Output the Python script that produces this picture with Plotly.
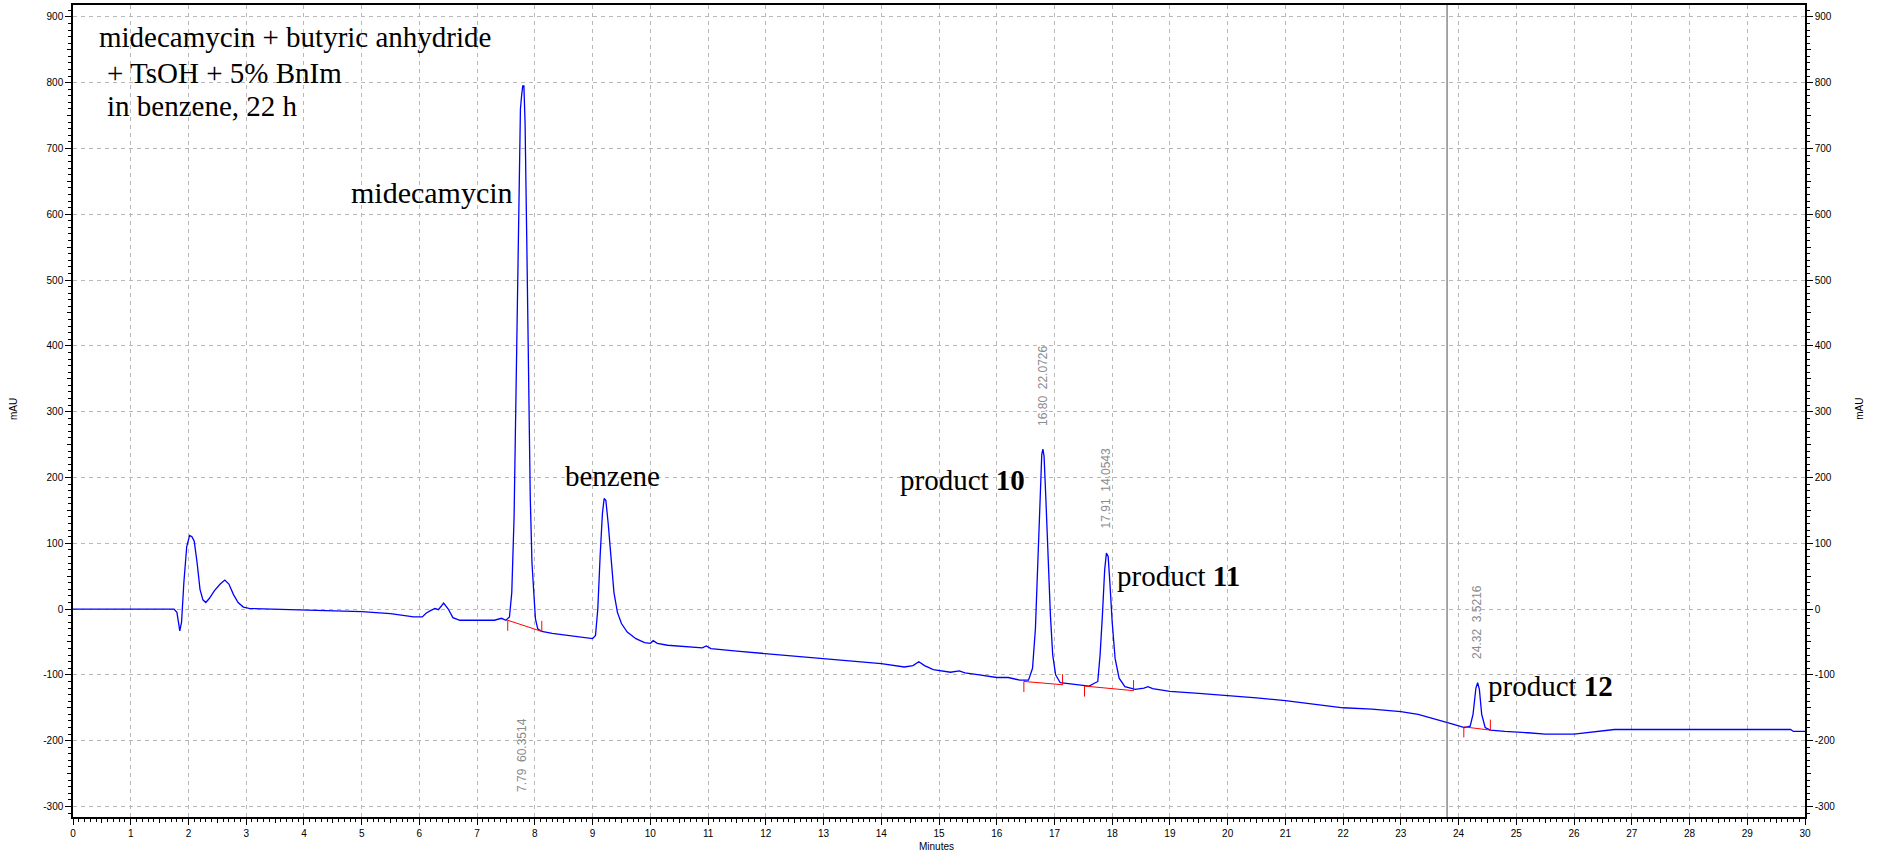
import plotly.graph_objects as go

# ---------------- data ----------------
time_min = [0.0, 1.75, 1.80, 1.85, 1.88, 1.92, 1.97, 2.02, 2.06, 2.10, 2.15, 2.20, 2.25, 2.30,
            2.36, 2.45, 2.55, 2.63, 2.70, 2.78, 2.86, 2.95, 3.05, 3.5, 4.0, 4.5, 5.0, 5.5, 5.9,
            6.05, 6.12, 6.20, 6.27, 6.33, 6.42, 6.50, 6.58, 6.70, 7.0, 7.3, 7.42, 7.50, 7.56,
            7.60, 7.64, 7.68, 7.72, 7.75, 7.77, 7.79, 7.81, 7.83, 7.86, 7.89, 7.92, 7.95, 7.98,
            8.01, 8.05, 8.12, 8.3, 8.6, 8.9, 9.0, 9.05, 9.09, 9.13, 9.17, 9.20, 9.23, 9.27, 9.32,
            9.37, 9.43, 9.50, 9.60, 9.75, 9.90, 10.0, 10.05, 10.12, 10.3, 10.6, 10.9, 10.97,
            11.05, 11.5, 12.0, 12.5, 13.0, 13.5, 14.0, 14.4, 14.55, 14.65, 14.75, 14.9, 15.2,
            15.35, 15.45, 15.7, 16.0, 16.2, 16.4, 16.55, 16.62, 16.67, 16.71, 16.75, 16.78,
            16.80, 16.82, 16.85, 16.89, 16.93, 16.97, 17.02, 17.1, 17.3, 17.6, 17.75, 17.79,
            17.83, 17.87, 17.90, 17.93, 17.96, 18.0, 18.05, 18.12, 18.22, 18.4, 18.55, 18.62,
            18.7, 19.0, 19.5, 20.0, 20.5, 21.0, 21.5, 22.0, 22.5, 23.0, 23.3, 23.6, 23.9, 24.1,
            24.2, 24.25, 24.30, 24.33, 24.36, 24.40, 24.46, 24.55, 24.8, 25.2, 25.5, 26.0, 26.3,
            26.7, 27.0, 28.0, 29.0, 29.75, 29.8, 30.0]
signal_mau = [0, 0, -5, -33, -20, 40, 95, 112, 110, 103, 70, 30, 14, 10,
              16, 28, 38, 44, 38, 22, 10, 3, 1, 0, -1, -2, -4, -7, -12,
              -12, -6, -2, 1, -1, 9, 0, -13, -17, -17, -17, -14, -17, -12,
              25, 140, 380, 640, 760, 780, 795, 795, 740, 560, 340, 170, 70, 20,
              -15, -30, -34, -37, -40, -43, -45, -40, 0, 80, 145, 168, 165, 130, 70,
              25, -5, -22, -35, -45, -51, -52, -48, -52, -55, -57, -59, -56,
              -60, -64, -68, -72, -75, -79, -83, -88, -86, -80, -86, -92, -96,
              -94, -97, -100, -104, -104, -108, -108, -90, -30, 60, 170, 235,
              243, 232, 170, 70, -10, -70, -100, -112, -114, -117, -110, -70,
              -10, 60, 85, 80, 40, -20, -75, -105, -118, -122, -120, -118,
              -121, -125, -128, -131, -135, -139, -145, -150, -152, -156, -160, -168, -175, -180,
              -178, -160, -120, -112, -122, -160, -180, -184, -186, -188, -190, -190, -187,
              -183, -183, -183, -183, -183, -186, -186]

# integration baselines (start / end of each integrated peak)
base_start_t = [7.53, 16.47, 17.52, 24.09]
base_start_v = [-17, -110, -117, -179]
base_end_t = [8.12, 17.14, 18.37, 24.55]
base_end_v = [-34, -115, -124, -184]

# peak result labels: retention time and area
peak_rt = ["7.79", "16.80", "17.91", "24.32"]
peak_area = ["60.3514", "22.0726", "14.0543", "3.5216"]
peak_label_t = [7.775, 16.80, 17.90, 24.33]
peak_label_v = [-222, 339, 184, -20]

marker_time = 23.8

x_ticks = list(range(0, 31))
x_half_ticks = [v + 0.5 for v in range(0, 30)]
y_ticks = list(range(-300, 901, 100))
y_half_ticks = list(range(-250, 901, 100))

# ---------------- figure ----------------
fig = go.Figure()

fig.add_trace(go.Scatter(x=time_min, y=signal_mau, mode="lines",
                         line=dict(color="#0000ff", width=1.3), hoverinfo="skip",
                         showlegend=False))

# baselines with start (down) and end (up) ticks
tick_len = 16
bx, by = [], []
for ts, vs, te, ve in zip(base_start_t, base_start_v, base_end_t, base_end_v):
    bx += [ts, te, None, ts, ts, None, te, te, None]
    by += [vs, ve, None, vs, vs - tick_len, None, ve, ve + tick_len, None]
fig.add_trace(go.Scatter(x=bx, y=by, mode="lines", line=dict(color="#ff0000", width=1),
                         hoverinfo="skip", showlegend=False))

# empty traces so that the extra tick axes are drawn
fig.add_trace(go.Scatter(x=[], y=[], yaxis="y2", showlegend=False))
fig.add_trace(go.Scatter(x=[], y=[], xaxis="x2", showlegend=False))
fig.add_trace(go.Scatter(x=[], y=[], yaxis="y3", showlegend=False))
fig.add_trace(go.Scatter(x=[], y=[], yaxis="y4", showlegend=False))

fig.add_shape(type="line", xref="x", yref="paper", x0=marker_time, x1=marker_time,
              y0=0, y1=1, line=dict(color="#505050", width=1))

tickfont = dict(family="Liberation Sans, Arial", size=10, color="#000000")
yr = [-316, 918]
xr = [0, 30]

minor_y = dict(dtick=10, ticklen=3, tickcolor="#000000", ticks="outside", showgrid=False)

fig.update_layout(
    width=1877, height=859,
    margin=dict(l=73, r=72, t=5, b=42, autoexpand=False),
    paper_bgcolor="white", plot_bgcolor="white",
    showlegend=False,
    xaxis=dict(range=xr, tickvals=x_ticks, ticktext=[str(v) for v in x_ticks],
               automargin=False,
               showgrid=True, gridcolor="#b8b8b8", griddash="4px,4px", gridwidth=1,
               zeroline=False, showline=True, linecolor="#000000", linewidth=1.5,
               mirror=True, ticks="outside", ticklen=6, tickcolor="#000000",
               tickfont=tickfont,
               minor=dict(dtick=0.1, ticklen=3, tickcolor="#000000", ticks="outside",
                          showgrid=False)),
    xaxis2=dict(range=xr, overlaying="x", anchor="y", side="bottom", automargin=False,
                tickvals=x_half_ticks, showticklabels=False, showgrid=False,
                zeroline=False, showline=False, ticks="outside", ticklen=5,
                tickcolor="#000000"),
    yaxis=dict(range=yr, tickvals=y_ticks, ticktext=[str(v) for v in y_ticks],
               automargin=False,
               showgrid=True, gridcolor="#b8b8b8", griddash="4px,4px", gridwidth=1,
               zeroline=False, showline=True, linecolor="#000000", linewidth=1.5,
               ticks="outside", ticklen=6, tickcolor="#000000", tickfont=tickfont,
               minor=minor_y),
    yaxis2=dict(range=yr, overlaying="y", side="right", anchor="x",
                automargin=False,
                tickvals=y_ticks, ticktext=[str(v) for v in y_ticks],
                showgrid=False, zeroline=False, showline=True, linecolor="#000000",
                linewidth=1.5, ticks="outside", ticklen=6, tickcolor="#000000",
                tickfont=tickfont, minor=minor_y),
    yaxis3=dict(range=yr, overlaying="y", side="left", anchor="x", automargin=False,
                tickvals=y_half_ticks, showticklabels=False, showgrid=False,
                zeroline=False, showline=False, ticks="outside", ticklen=5,
                tickcolor="#000000"),
    yaxis4=dict(range=yr, overlaying="y", side="right", anchor="x", automargin=False,
                tickvals=y_half_ticks, showticklabels=False, showgrid=False,
                zeroline=False, showline=False, ticks="outside", ticklen=5,
                tickcolor="#000000"),
)

serif = "Liberation Serif, Times New Roman, serif"
big = dict(family=serif, size=29, color="#000000")

# description text
fig.add_annotation(x=0.416, y=869, xref="x", yref="y", text="midecamycin + butyric anhydride",
                   showarrow=False, xanchor="left", yanchor="middle", font=big)
fig.add_annotation(x=0.554, y=815, xref="x", yref="y", text="+ TsOH + 5% BnIm",
                   showarrow=False, xanchor="left", yanchor="middle", font=big)
fig.add_annotation(x=0.554, y=765, xref="x", yref="y", text="in benzene, 22 h",
                   showarrow=False, xanchor="left", yanchor="middle", font=big)

# compound labels
fig.add_annotation(x=7.65, y=633, xref="x", yref="y", text="midecamycin",
                   showarrow=False, xanchor="right", yanchor="middle",
                   font=dict(family=serif, size=30, color="#000000"))
fig.add_annotation(x=8.48, y=202, xref="x", yref="y", text="benzene",
                   showarrow=False, xanchor="left", yanchor="middle", font=big)
fig.add_annotation(x=16.52, y=196, xref="x", yref="y", text="product <b>10</b>",
                   showarrow=False, xanchor="right", yanchor="middle", font=big)
fig.add_annotation(x=18.05, y=50, xref="x", yref="y", text="product <b>11</b>",
                   showarrow=False, xanchor="left", yanchor="middle", font=big)
fig.add_annotation(x=24.48, y=-117, xref="x", yref="y", text="product <b>12</b>",
                   showarrow=False, xanchor="left", yanchor="middle", font=big)

# peak result labels (rotated)
for rt, area, lx, ly in zip(peak_rt, peak_area, peak_label_t, peak_label_v):
    fig.add_annotation(x=lx, y=ly, xref="x", yref="y", text=rt + "\u00a0\u00a0" + area,
                       showarrow=False, textangle=-90, xanchor="center", yanchor="middle",
                       font=dict(family="Liberation Sans, Arial", size=12, color="#8c8c8c"))

# axis titles
small = dict(family="Liberation Sans, Arial", size=10, color="#000000")
fig.add_annotation(x=0.4986, y=-0.036, xref="paper", yref="paper", text="Minutes",
                   showarrow=False, xanchor="center", yanchor="middle", font=small)
fig.add_annotation(x=-0.034, y=0.5025, xref="paper", yref="paper", text="mAU",
                   showarrow=False, textangle=-90, xanchor="center", yanchor="middle", font=small)
fig.add_annotation(x=1.0317, y=0.5025, xref="paper", yref="paper", text="mAU",
                   showarrow=False, textangle=-90, xanchor="center", yanchor="middle", font=small)

fig.write_html("out.html", config={"displayModeBar": False},
               post_script="document.body.style.margin='0';document.body.style.overflow='hidden';")
